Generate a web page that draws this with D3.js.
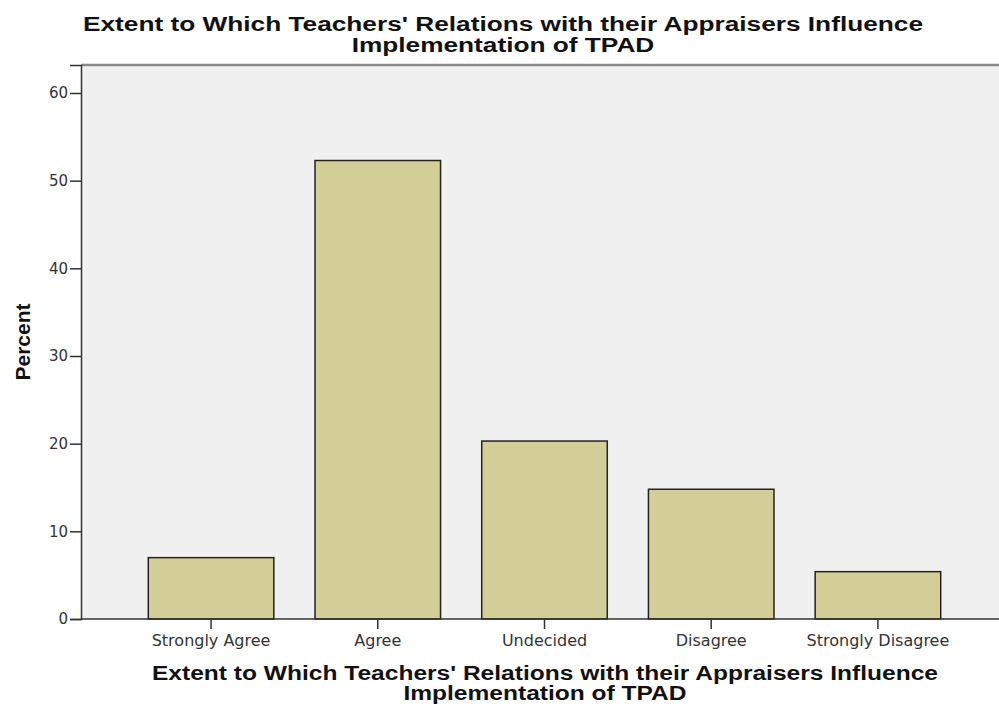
<!DOCTYPE html>
<html><head><meta charset="utf-8">
<script src="https://cdn.jsdelivr.net/npm/d3@7"></script>
<style>body{margin:0;background:#fff}svg{display:block}</style>
</head><body>
<svg id="c" width="999" height="706"></svg>
<script>
const categories = ["Strongly Agree","Agree","Undecided","Disagree","Strongly Disagree"];
const percents = [7.0, 52.3, 20.3, 14.8, 5.4];
const yTicks = [0,10,20,30,40,50,60];
const titleLines = ["Extent to Which Teachers' Relations with their Appraisers Influence","Implementation of TPAD"];
const yLabel = "Percent";

const svg = d3.select("#c");
const plotL = 81, plotT = 65, plotB = 619, plotR = 1010;
const y0px = 619, y60px = 93;
const y = d3.scaleLinear().domain([0, 60*(plotB-plotT)/(y0px-y60px)]).range([plotB, plotT]);
const x = d3.scaleBand().domain(categories).range([127.7, 961.3]).paddingInner(0.247).paddingOuter(0.1235);

// plot background
svg.append("rect").attr("x",plotL).attr("y",plotT).attr("width",plotR-plotL).attr("height",plotB-plotT)
  .attr("fill","#f0f0f0");
svg.append("line").attr("x1",plotL).attr("x2",plotR).attr("y1",plotT).attr("y2",plotT)
  .attr("stroke","#8a8a8a").attr("stroke-width",2.5);

// bars
svg.selectAll("rect.bar").data(percents).join("rect").attr("class","bar")
  .attr("x",(d,i)=>x(categories[i])).attr("width",x.bandwidth())
  .attr("y",d=>y(d)).attr("height",d=>plotB-y(d))
  .attr("fill","#d3ce97").attr("stroke","#222").attr("stroke-width",1.5);

// y axis
const ya = svg.append("g").attr("transform",`translate(${plotL},0)`)
  .call(d3.axisLeft(y).tickValues(yTicks).tickSize(11).tickPadding(2).tickFormat(d3.format("d")));
ya.select(".domain").attr("stroke","#333").attr("stroke-width",1.5);
ya.selectAll(".tick line").attr("stroke","#333").attr("stroke-width",1.5);
ya.selectAll(".tick text").attr("font-family","DejaVu Sans, sans-serif").attr("font-size",15).attr("fill","#333");

// x axis
const xa = svg.append("g").attr("transform",`translate(0,${plotB})`)
  .call(d3.axisBottom(x).tickSize(10).tickPadding(6).tickSizeOuter(0));
xa.select(".domain").attr("stroke","#333").attr("stroke-width",1.5).attr("d",`M${plotL},0H${plotR}`);
xa.selectAll(".tick line").attr("stroke","#333").attr("stroke-width",1.5);
xa.selectAll(".tick text").attr("font-family","DejaVu Sans, sans-serif").attr("font-size",16).attr("fill","#333");

// titles
function twoLine(cx, y1, y2, size, width1) {
  const t = svg.append("text").attr("font-family","Liberation Sans, Arial, sans-serif").attr("font-weight","bold")
    .attr("font-size",size).attr("text-anchor","middle").attr("fill","#111");
  const s1 = t.append("tspan").attr("x",cx).attr("y",y1).text(titleLines[0]);
  const s2 = t.append("tspan").attr("x",cx).attr("y",y2).text(titleLines[1]);
  const k = width1 / s1.node().getComputedTextLength();
  const w2 = s2.node().getComputedTextLength() * k;
  s1.attr("textLength",width1).attr("lengthAdjust","spacingAndGlyphs");
  s2.attr("textLength",w2).attr("lengthAdjust","spacingAndGlyphs");
}
twoLine(503, 31, 52, 20, 840);
twoLine(545, 680, 700, 19.5, 786);

svg.append("text").attr("transform",`translate(30,342) rotate(-90)`).attr("text-anchor","middle")
  .attr("font-family","Liberation Sans, Arial, sans-serif").attr("font-weight","bold").attr("font-size",21)
  .attr("fill","#111").text(yLabel);
</script>
</body></html>
